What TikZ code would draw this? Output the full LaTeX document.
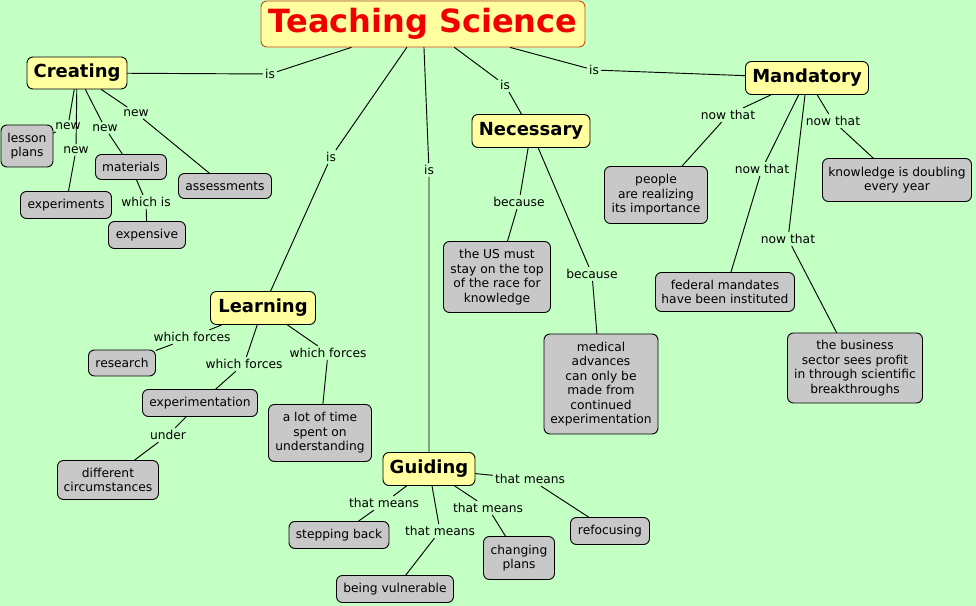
\documentclass[tikz,border=0pt]{standalone}
\usepackage{fontspec}
\setmainfont{DejaVu Sans}
\definecolor{nen}{RGB}{196,255,196}
\definecolor{vang}{RGB}{255,255,160}
\definecolor{xam}{RGB}{200,200,200}
\definecolor{vien}{RGB}{215,70,20}
\definecolor{chudo}{RGB}{240,0,0}
\begin{document}
\begin{tikzpicture}[x=0.75pt,y=-0.75pt, line join=round, line cap=round, line width=0.7pt,
	font=\fontsize{9.2}{10.9}\selectfont,
	concept/.style={draw, fill=vang, rounded corners=4.5pt, inner sep=0pt, font=\fontsize{13.5}{15}\selectfont\bfseries},
	leaf/.style={draw, fill=xam, rounded corners=4.5pt, inner sep=0pt, align=center},
	lab/.style={inner sep=1.5pt},
	sz/.style 2 args={minimum width=#1*0.75pt, minimum height=#2*0.75pt}]
	\fill[nen] (0,0) rectangle (976,606);
	\useasboundingbox (0,0) rectangle (976,606);
	% khái niệm chính
	\node[concept, sz={324}{46}, draw=vien, text=chudo, font=\fontsize{24}{26}\selectfont\bfseries] (ts) at (423,24) {Teaching Science};
	\node[concept, sz={100}{32}] (cre) at (77,73) {Creating};
	\node[concept, sz={118}{33}] (nec) at (531,131) {Necessary};
	\node[concept, sz={123}{33}] (man) at (807,78) {Mandatory};
	\node[concept, sz={105}{33}] (lea) at (263,308) {Learning};
	\node[concept, sz={92}{33}] (gui) at (429,469) {Guiding};
	% các ô xám
	\node[leaf, sz={52}{42}] (lp) at (27,146) {lesson\\plans};
	\node[leaf, sz={91}{27}] (exs) at (66,205) {experiments};
	\node[leaf, sz={71}{25}] (mat) at (131,167) {materials};
	\node[leaf, sz={77}{27}] (expv) at (147,235) {expensive};
	\node[leaf, sz={93}{25}] (ass) at (225,186) {assessments};
	\node[leaf, sz={103}{57}] (peo) at (656,195) {people\\are realizing\\its importance};
	\node[leaf, sz={149}{43}] (kno) at (897,180) {knowledge is doubling\\every year};
	\node[leaf, sz={139}{39}] (fed) at (725,292) {federal mandates\\have been instituted};
	\node[leaf, sz={135}{70}] (bus) at (855,368) {the business\\sector sees profit\\in through scientific\\breakthroughs};
	\node[leaf, sz={107}{71}] (us) at (497,277) {the US must\\stay on the top\\of the race for\\knowledge};
	\node[leaf, sz={114}{100}] (med) at (601,384) {medical\\advances\\can only be\\made from\\continued\\experimentation};
	\node[leaf, sz={67}{26}] (res) at (122,363) {research};
	\node[leaf, sz={115}{27}] (expn) at (200,403) {experimentation};
	\node[leaf, sz={101}{39}] (dif) at (108,480) {different\\circumstances};
	\node[leaf, sz={103}{57}] (tim) at (320,433) {a lot of time\\spent on\\understanding};
	\node[leaf, sz={100}{27}] (stp) at (339,535) {stepping back};
	\node[leaf, sz={117}{27}] (vul) at (395,589) {being vulnerable};
	\node[leaf, sz={71}{43}] (chg) at (519,558) {changing\\plans};
	\node[leaf, sz={79}{27}] (ref) at (610,531) {refocusing};
	% nhãn
	\node[lab] (i1) at (270,74) {is};
	\node[lab] (i2) at (331,157) {is};
	\node[lab] (i3) at (429,170) {is};
	\node[lab] (i4) at (505,85) {is};
	\node[lab] (i5) at (594,70) {is};
	\node[lab] (n1) at (68,126) {new};
	\node[lab] (n2) at (76,150) {new};
	\node[lab] (n3) at (105,128) {new};
	\node[lab] (n4) at (136,113) {new};
	\node[lab] (w1) at (146,202) {which is};
	\node[lab] (t1) at (728,115) {now that};
	\node[lab] (t2) at (762,169) {now that};
	\node[lab] (t3) at (788,239) {now that};
	\node[lab] (t4) at (833,121) {now that};
	\node[lab] (b1) at (519,202) {because};
	\node[lab] (b2) at (592,274) {because};
	\node[lab] (f1) at (192,337) {which forces};
	\node[lab] (f2) at (244,364) {which forces};
	\node[lab] (f3) at (328,353) {which forces};
	\node[lab] (u1) at (168,435) {under};
	\node[lab] (m1) at (384,503) {that means};
	\node[lab] (m2) at (440,531) {that means};
	\node[lab] (m3) at (488,508) {that means};
	\node[lab] (m4) at (530,479) {that means};
	\foreach \a/\l/\b in {ts/i1/cre, ts/i2/lea, ts/i3/gui, ts/i4/nec, ts/i5/man,
		cre/n1/lp, cre/n2/exs, cre/n3/mat, cre/n4/ass, mat/w1/expv,
		man/t1/peo, man/t2/fed, man/t3/bus, man/t4/kno,
		nec/b1/us, nec/b2/med,
		lea/f1/res, lea/f2/expn, lea/f3/tim, expn/u1/dif,
		gui/m1/stp, gui/m2/vul, gui/m3/chg, gui/m4/ref}
		\draw (\a) -- (\l) -- (\b);
\end{tikzpicture}
\end{document}
